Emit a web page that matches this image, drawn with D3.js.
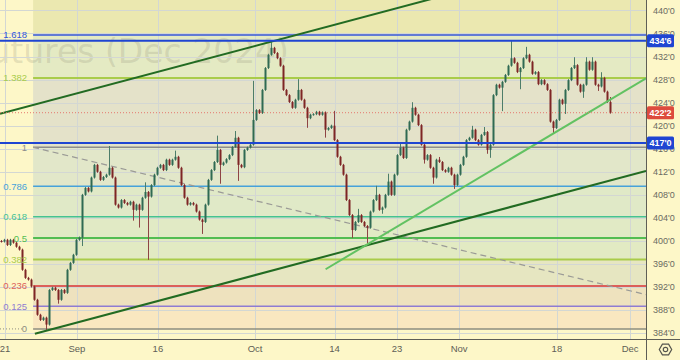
<!DOCTYPE html>
<html>
<head>
<meta charset="utf-8">
<script src="https://cdn.jsdelivr.net/npm/d3@7"></script>
<style>
  html, body { margin: 0; padding: 0; background: #fdf7c8; }
  svg { display: block; font-family: "Liberation Sans", Arial, sans-serif; }
</style>
</head>
<body>
<svg id="chart" width="680" height="360"></svg>
<script>
// bar closes (one bar every 3px)
const closes = [
  399.9, 400.2, 399.3, 400.2, 399.7, 399.0, 398.5, 395.0, 393.6, 393.3,
  392.1, 389.8, 387.2, 386.3, 386.7, 385.5, 391.5, 391.9, 391.5, 389.8,
  391.5, 391.0, 395.0, 396.2, 397.6, 400.2, 400.6, 408.0, 409.2, 408.6,
  411.0, 413.2, 412.0, 410.6, 411.1, 411.5, 412.7, 411.0, 406.3, 405.8,
  407.1, 406.6, 406.3, 406.8, 405.4, 406.3, 405.4, 407.5, 408.5, 407.7,
  409.7, 411.5, 412.7, 413.2, 412.3, 414.1, 413.2, 414.1, 414.6, 412.7,
  409.7, 407.5, 406.3, 406.6, 406.3, 405.1, 403.7, 403.3, 406.3, 410.6,
  412.3, 413.7, 415.8, 413.2, 413.6, 414.2, 414.9, 416.3, 417.9, 413.2,
  412.8, 415.8, 416.2, 416.7, 421.0, 422.7, 422.2, 426.2, 430.0, 432.3,
  433.5, 432.6, 431.7, 430.4, 426.2, 425.3, 424.1, 423.1, 424.5, 426.2,
  424.5, 423.1, 421.3, 421.9, 422.0, 422.4, 421.9, 422.3, 419.3, 419.6,
  420.0, 417.5, 414.6, 413.2, 411.5, 407.1, 404.5, 401.9, 403.3, 404.5,
  403.3, 402.6, 402.3, 405.1, 407.1, 408.0, 405.4, 405.8, 408.0, 410.3,
  408.0, 411.5, 414.9, 416.2, 414.4, 419.3, 420.7, 423.1, 421.9, 420.1,
  416.7, 414.1, 414.9, 412.7, 411.0, 414.1, 413.7, 412.3, 412.0, 412.7,
  411.5, 409.7, 411.5, 413.2, 414.6, 417.5, 417.9, 419.3, 417.5, 416.7,
  418.4, 418.9, 415.8, 416.7, 425.3, 427.1, 426.6, 427.6, 428.8, 430.4,
  431.7, 430.9, 429.3, 430.0, 431.7, 432.3, 431.1, 429.0, 429.3, 427.2,
  427.9, 427.2, 426.2, 420.7, 419.6, 421.0, 424.5, 423.8, 426.2, 427.9,
  430.0, 430.5, 427.1, 425.9, 427.1, 431.1, 429.7, 431.1, 427.1, 426.8,
  428.3, 425.9, 424.1, 422.25
]
const firstOpen = 400.0

// long wicks: [bar index, price]
const highMarks = [
  [36, 416.3], [48, 410.0], [58, 415.5], [72, 418.1], [78, 418.9], [84, 427.6],
  [90, 434.3], [99, 427.9], [111, 422.4], [119, 405.4], [125, 409.4], [129, 411.5],
  [133, 416.7], [137, 423.9], [146, 414.4], [157, 419.8], [161, 419.6], [170, 434.5],
  [175, 433.5], [191, 431.7], [195, 431.7], [197, 431.7], [200, 429.1], [203, 424.8]
]
const lowMarks = [
  [15, 384.75], [19, 389.3], [27, 399.3], [44, 403.7], [46, 402.5], [49, 396.9],
  [67, 401.4], [73, 410.1], [79, 410.6], [102, 419.8], [108, 418.1], [117, 400.7],
  [122, 399.7], [127, 404.9], [141, 413.6], [144, 410.1], [151, 409.2], [162, 415.3],
  [163, 414.6], [167, 422.7], [173, 426.5], [184, 418.9], [188, 422.2], [194, 425.0],
  [199, 426.2]
]

// fibonacci retracement
const fibLevels = [0, 0.125, 0.236, 0.382, 0.5, 0.618, 0.786, 1, 1.382, 1.618]
const fibLow = 384.75
const fibHigh = 416.25
const fibStart = 10.7

// drawings: [bar index, price]
const upperChannel = [[0, 422.1], [90, 434.57]]
const lowerChannel = [[11.3, 383.9], [203, 410.5]]
const supportLine = [[108.2, 395.1], [203, 424.5]]
const fibDiagonal = [[10.7, 416.25], [215, 390.7]]
const blueLevels = [434.75, 417.0]
const lastPrice = 422.25

const dateTicks = [1.3, 25.3, 52.3, 84.7, 111.2, 132, 152.7, 185.3, 209.7]
const dateLabels = ["21", "Sep", "16", "Oct", "14", "23", "Nov", "18", "Dec"]
const priceTicks = d3.range(384, 441, 4)

// styles
const fibColors = ["#8c8c80", "#8f7cd2", "#dc5f5a", "#a9cc4a", "#52bd52", "#45c293", "#46a2da", "#8c8c8c", "#a9cc4a", "#3456de"]
const fibWidths = [1.5, 1.5, 2, 2, 2, 1.5, 1.5, 1.5, 2, 1.5]
const zoneColors = ["#f9e7c0", "#eee2be", "#e6e6c1", "#e2eac3", "#e1eac5", "#e0e9c7", "#e2e7c9", "#e4e2c9", "#e4eac3", "#ebe8b0"]

const plotW = 646
const plotH = 339

const x = d3.scaleLinear().domain([-1 / 3, 215]).range([0, plotW])
const y = d3.scaleLinear().domain([383, 441.8]).range([plotH, 0])

const fmt = v => `${Math.floor(v)}'${Math.round((v - Math.floor(v)) * 8)}`

const svg = d3.select("#chart")

svg.append("rect").attr("width", 680).attr("height", 360).attr("fill", "#fdf7c8")

svg.append("clipPath").attr("id", "plotclip")
  .append("rect").attr("width", plotW).attr("height", plotH)

const plot = svg.append("g").attr("clip-path", "url(#plotclip)")

// fib zones
const fibPrice = l => fibLow + l * (fibHigh - fibLow)
const zoneEdges = fibLevels.map(fibPrice).concat([y.domain()[1]])
plot.append("g").selectAll("rect")
  .data(d3.range(zoneEdges.length - 1))
  .join("rect")
  .attr("x", x(fibStart))
  .attr("width", plotW - x(fibStart))
  .attr("y", i => y(zoneEdges[i + 1]))
  .attr("height", i => y(zoneEdges[i]) - y(zoneEdges[i + 1]))
  .attr("fill", i => zoneColors[i])

// watermark
plot.append("text")
  .attr("x", 289)
  .attr("y", 63)
  .attr("text-anchor", "end")
  .attr("font-family", "'DejaVu Sans', sans-serif")
  .attr("font-size", 33)
  .attr("fill", "#807f6a")
  .attr("fill-opacity", 0.2)
  .text("Corn Futures (Dec 2024)")

// grid
const grid = plot.append("g").attr("stroke", "#d3d7d3").attr("stroke-width", 1)
grid.selectAll(".h").data(priceTicks).join("line").attr("class", "h")
  .attr("x1", 0).attr("x2", plotW)
  .attr("y1", d => Math.round(y(d)) + 0.5).attr("y2", d => Math.round(y(d)) + 0.5)
grid.selectAll(".v").data(dateTicks).join("line").attr("class", "v")
  .attr("y1", 0).attr("y2", plotH)
  .attr("x1", d => Math.round(x(d)) + 0.5).attr("x2", d => Math.round(x(d)) + 0.5)

// fib level lines
plot.append("g").selectAll("line")
  .data(fibLevels)
  .join("line")
  .attr("x1", x(fibStart)).attr("x2", plotW)
  .attr("y1", d => y(fibPrice(d))).attr("y2", d => y(fibPrice(d)))
  .attr("stroke", (d, i) => fibColors[i])
  .attr("stroke-width", (d, i) => fibWidths[i])

// dotted ray at the low, left of the fib
plot.append("line")
  .attr("x1", 0).attr("x2", x(fibStart) - 11)
  .attr("y1", y(fibLow)).attr("y2", y(fibLow))
  .attr("stroke", "#8c8c80").attr("stroke-dasharray", "1,2")

// fib diagonal
plot.append("line")
  .attr("x1", x(fibDiagonal[0][0])).attr("y1", y(fibDiagonal[0][1]))
  .attr("x2", x(fibDiagonal[1][0])).attr("y2", y(fibDiagonal[1][1]))
  .attr("stroke", "#9a9a96").attr("stroke-width", 1.2)
  .attr("stroke-dasharray", "6,4")

// candles
const highMap = new Map(highMarks)
const lowMap = new Map(lowMarks)
const candles = closes.map((c, i) => {
  const o = i ? closes[i - 1] : firstOpen
  return {
    i, o, c,
    h: highMap.get(i) ?? Math.max(o, c),
    l: lowMap.get(i) ?? Math.min(o, c)
  }
})
const up = d => d.c >= d.o
const gCandles = plot.append("g")
gCandles.selectAll("line")
  .data(candles)
  .join("line")
  .attr("x1", d => x(d.i) + 0.5).attr("x2", d => x(d.i) + 0.5)
  .attr("y1", d => y(d.h) - 1).attr("y2", d => y(d.l) + 1)
  .attr("stroke", d => up(d) ? "#4d7d69" : "#8e4444")
  .attr("stroke-width", 1)
gCandles.selectAll("rect")
  .data(candles)
  .join("rect")
  .attr("x", d => x(d.i) - 0.5)
  .attr("width", 2)
  .attr("y", d => y(Math.max(d.o, d.c)))
  .attr("height", d => Math.max(1, Math.abs(y(d.o) - y(d.c))))
  .attr("fill", d => up(d) ? "#2f6a53" : "#7e2525")

// trend lines
const extend = (seg, from, to) => {
  const [[i0, v0], [i1, v1]] = seg
  const k = (v1 - v0) / (i1 - i0)
  return [[from, v0 + k * (from - i0)], [to, v0 + k * (to - i0)]]
}
const line = d3.line().x(d => x(d[0])).y(d => y(d[1]))
const xEnd = x.domain()[1]
const trend = [
  { pts: extend(upperChannel, x.domain()[0], xEnd), color: "#226b22", w: 2 },
  { pts: extend(lowerChannel, lowerChannel[0][0], xEnd), color: "#226b22", w: 2 },
  { pts: extend(supportLine, supportLine[0][0], xEnd), color: "#62c262", w: 2 }
]
plot.append("g").attr("fill", "none").selectAll("path")
  .data(trend)
  .join("path")
  .attr("d", d => line(d.pts))
  .attr("stroke", d => d.color)
  .attr("stroke-width", d => d.w)

// horizontal lines
plot.append("g").selectAll("line")
  .data(blueLevels)
  .join("line")
  .attr("x1", 0).attr("x2", plotW)
  .attr("y1", d => y(d)).attr("y2", d => y(d))
  .attr("stroke", "#1f45d2").attr("stroke-width", 2)

plot.append("line")
  .attr("x1", 0).attr("x2", plotW)
  .attr("y1", y(lastPrice)).attr("y2", y(lastPrice))
  .attr("stroke", "#e5786e").attr("stroke-width", 1)
  .attr("stroke-dasharray", "1,2")

// fib labels
svg.append("g")
  .attr("font-size", 9.5)
  .attr("text-anchor", "end")
  .selectAll("text")
  .data(fibLevels)
  .join("text")
  .attr("x", 27)
  .attr("y", d => y(fibPrice(d)))
  .attr("dy", "0.36em")
  .attr("fill", (d, i) => fibColors[i])
  .text(d => d)

// axes frame
svg.append("line").attr("x1", plotW + 0.5).attr("x2", plotW + 0.5).attr("y1", 0).attr("y2", 360)
  .attr("stroke", "#5e5e56")
svg.append("line").attr("x1", 0).attr("x2", 680).attr("y1", plotH + 0.5).attr("y2", plotH + 0.5)
  .attr("stroke", "#5e5e56")

// price axis
svg.append("g")
  .attr("font-size", 9)
  .attr("fill", "#6a6a62")
  .selectAll("text")
  .data(priceTicks)
  .join("text")
  .attr("x", 653)
  .attr("y", d => y(d))
  .attr("dy", "0.35em")
  .text(d => fmt(d))

// date axis
svg.append("g")
  .attr("font-size", 9.5)
  .attr("fill", "#5e5e56")
  .attr("text-anchor", "middle")
  .selectAll("text")
  .data(dateTicks)
  .join("text")
  .attr("x", d => x(d))
  .attr("y", 352)
  .text((d, i) => dateLabels[i])

// price tags
const tags = [
  { v: blueLevels[0], color: "#1f45d2" },
  { v: lastPrice, color: "#dd4b3e" },
  { v: blueLevels[1], color: "#1f45d2" }
]
const gTags = svg.append("g").selectAll("g").data(tags).join("g")
gTags.append("rect")
  .attr("x", plotW + 1)
  .attr("y", d => y(d.v) - 6.5)
  .attr("width", 27)
  .attr("height", 13)
  .attr("rx", 1.5)
  .attr("fill", d => d.color)
gTags.append("text")
  .attr("x", plotW + 14.5)
  .attr("y", d => y(d.v))
  .attr("dy", "0.35em")
  .attr("text-anchor", "middle")
  .attr("font-size", 9)
  .attr("font-weight", "bold")
  .attr("fill", "#ffffff")
  .text(d => fmt(d.v))

// settings icon
const gear = svg.append("g").attr("transform", "translate(665.5,349.5)")
  .attr("fill", "none").attr("stroke", "#55554d").attr("stroke-width", 1.2)
gear.append("path")
  .attr("d", d3.line()(d3.range(6).map(k => {
    const a = Math.PI / 3 * k
    return [6.2 * Math.cos(a), 6.2 * Math.sin(a)]
  })) + "Z")
gear.append("circle").attr("r", 2.2)
</script>
</body>
</html>
